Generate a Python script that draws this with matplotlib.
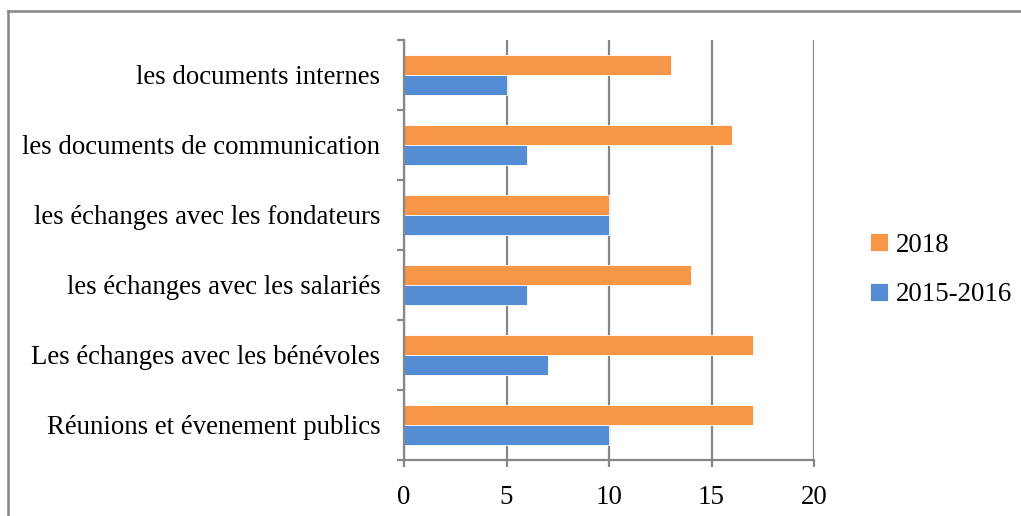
import matplotlib
matplotlib.use('Agg')
import matplotlib.pyplot as plt
from matplotlib.lines import Line2D
import numpy as np

plt.rcParams['font.family'] = ['Liberation Serif', 'DejaVu Serif']

# categories, bottom to top
categories = ['Réunions et évenement publics',
              'Les échanges avec les bénévoles',
              'les échanges avec les salariés',
              'les échanges avec les fondateurs',
              'les documents de communication',
              'les documents internes']
vals_2018 = [17, 17, 14, 10, 16, 13]
vals_2015 = [10, 7, 6, 10, 6, 5]
xticks = [0, 5, 10, 15, 20]

orange = '#F79646'
blue = '#548DD4'
grey = '#868686'
fs = 19.4

fig = plt.figure(figsize=(10.21, 5.16), dpi=100)
ax = fig.add_axes([404/1021, 1 - 460/516, 410/1021, 420/516])

y = np.arange(len(categories))
h = 0.286
ax.barh(y + h/2, vals_2018, height=h, color=orange, edgecolor='white', linewidth=0.6, label='2018', zorder=3)
ax.barh(y - h/2, vals_2015, height=h, color=blue, edgecolor='white', linewidth=0.6, label='2015-2016', zorder=3)

ax.set_xlim(0, 20)
ax.set_ylim(-0.5, len(categories) - 0.5)
ax.set_xticks(xticks)
ax.set_xticklabels([str(t) for t in xticks], fontsize=fs)
ax.xaxis.grid(True, color=grey, linewidth=1.6, zorder=0)
ax.tick_params(axis='x', length=5, width=1.6, color=grey, pad=13)

ax.set_yticks(np.arange(-0.5, len(categories), 1.0))
ax.set_yticklabels([])
ax.set_yticks(y, minor=True)
ax.set_yticklabels(categories, minor=True, fontsize=fs)
ax.tick_params(axis='y', which='major', length=5, width=1.6, color=grey)
ax.tick_params(axis='y', which='minor', length=0, pad=17)

for s in ['top', 'right']:
    ax.spines[s].set_visible(False)
for s in ['left', 'bottom']:
    ax.spines[s].set_color(grey)
    ax.spines[s].set_linewidth(1.6)
    ax.spines[s].set_zorder(4)

leg = fig.legend(loc='center left', bbox_to_anchor=(870/1021, 1 - 270/516),
                 frameon=False, fontsize=fs, handlelength=0.65, handleheight=0.65,
                 handletextpad=0.3, labelspacing=0.9, borderpad=0, borderaxespad=0)

# frame around chart area
fig.add_artist(Line2D([8/1021, 8/1021], [0, 1 - 11/516], color=grey, linewidth=1.8))
fig.add_artist(Line2D([8/1021, 1], [1 - 11/516, 1 - 11/516], color=grey, linewidth=1.8))

fig.savefig('out.png', dpi=100)
